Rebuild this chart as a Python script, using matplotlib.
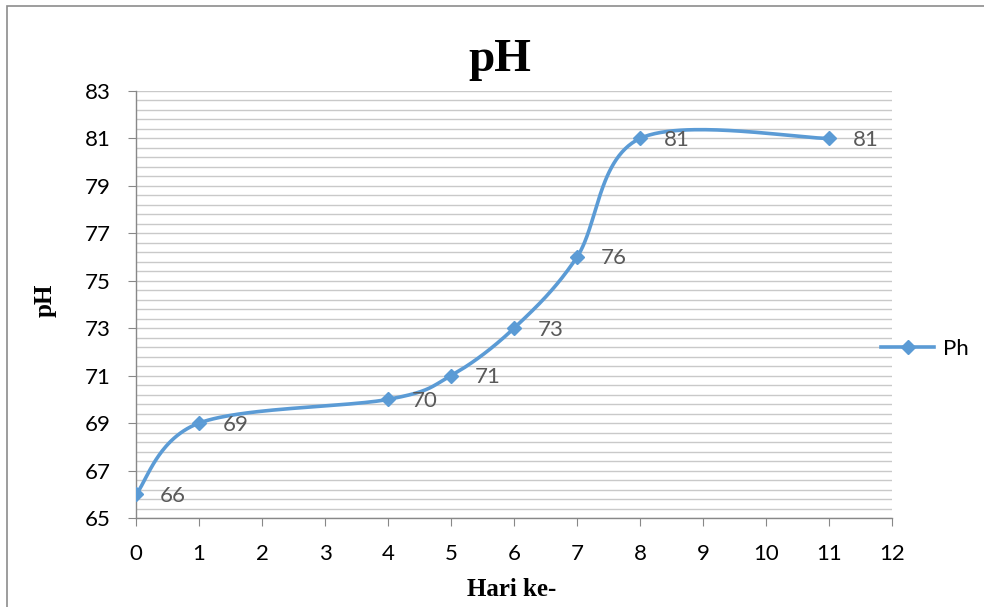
import numpy as np
import matplotlib
matplotlib.use('Agg')
import matplotlib.pyplot as plt
from matplotlib.patches import Rectangle

# data
hari = [0, 1, 4, 5, 6, 7, 8, 11]
ph = [66, 69, 70, 71, 73, 76, 81, 81]

LINE = '#5B9BD5'
GRID = '#C9C9C9'
AXIS = '#888888'
LABEL_FONT = 'Lato'
SERIF = 'Liberation Serif'


def excel_smooth(xs, ys, n=60):
    # cubic bezier through the points, control points like Excel's smoothed line
    p = np.column_stack([xs, ys]).astype(float)
    pts = np.vstack([p[0], p, p[-1]])
    out = []
    for i in range(1, len(pts) - 2):
        p0, p1, p2, p3 = pts[i - 1], pts[i], pts[i + 1], pts[i + 2]
        c1 = p1 + (p2 - p0) / 6.0
        c2 = p2 - (p3 - p1) / 6.0
        t = np.linspace(0, 1, n)[:, None]
        seg = ((1 - t) ** 3) * p1 + 3 * ((1 - t) ** 2) * t * c1 + 3 * (1 - t) * t ** 2 * c2 + t ** 3 * p2
        out.append(seg if i == 1 else seg[1:])
    out = np.vstack(out)
    return out[:, 0], out[:, 1]


fig = plt.figure(figsize=(9.84, 6.07), dpi=100)
ax = fig.add_axes([136 / 984, 1 - 518 / 607, (892 - 136) / 984, (518 - 91) / 607])

# chart border (left/top visible)
fig.patches.append(Rectangle((7 / 984, -0.05), 1.2, 1 - 6 / 607 + 0.05, transform=fig.transFigure,
                             fill=False, edgecolor='#8C8C8C', lw=1.2))

sx, sy = excel_smooth(hari, ph)
ax.plot(sx, sy, color=LINE, lw=2.6, solid_capstyle='round', zorder=3)
ax.plot(hari, ph, ls='none', marker='D', ms=7.5, color=LINE, zorder=4)
# legend proxy
ax.plot([], [], color=LINE, lw=2.6, marker='D', ms=7.5, label='Ph')

for xi, yi in zip(hari, ph):
    ax.annotate(str(yi), (xi, yi), xytext=(17, -1), textcoords='offset points',
                ha='left', va='center', fontsize=16, color='#595959', family=LABEL_FONT)

ax.set_xlim(0, 12)
ax.set_ylim(65, 83)
ax.set_xticks(range(0, 13))
ax.set_yticks(np.arange(65, 83.1, 2))
ax.set_yticks(np.arange(65, 83.01, 0.4), minor=True)
ax.grid(True, axis='y', which='both', color=GRID, lw=1.0)
ax.set_axisbelow(True)

for s in ['top', 'right']:
    ax.spines[s].set_visible(False)
for s in ['left', 'bottom']:
    ax.spines[s].set_color(AXIS)
    ax.spines[s].set_linewidth(1.0)

ax.tick_params(axis='both', which='major', length=6, color=AXIS, labelsize=16)
ax.tick_params(axis='x', pad=13)
ax.tick_params(axis='y', pad=12)
ax.tick_params(axis='y', which='minor', length=0)
for lab in ax.get_xticklabels() + ax.get_yticklabels():
    lab.set_family(LABEL_FONT)

fig.text(500 / 984, 1 - 60 / 607, 'pH', ha='center', va='center', fontsize=34,
         fontweight='bold', family=SERIF)
fig.text(45 / 984, 1 - 300 / 607, 'pH', ha='center', va='center', rotation=90,
         fontsize=18, fontweight='bold', family=SERIF)
fig.text(512 / 984, 1 - 590 / 607, 'Hari ke-', ha='center', va='center', fontsize=18,
         fontweight='bold', family=SERIF)

leg = ax.legend(loc='center left', bbox_to_anchor=(872 / 984, 1 - 349 / 607),
                bbox_transform=fig.transFigure, frameon=False, handlelength=2.4,
                handletextpad=0.4, borderaxespad=0, prop={'family': LABEL_FONT, 'size': 16})

fig.savefig('out.png', dpi=100)
